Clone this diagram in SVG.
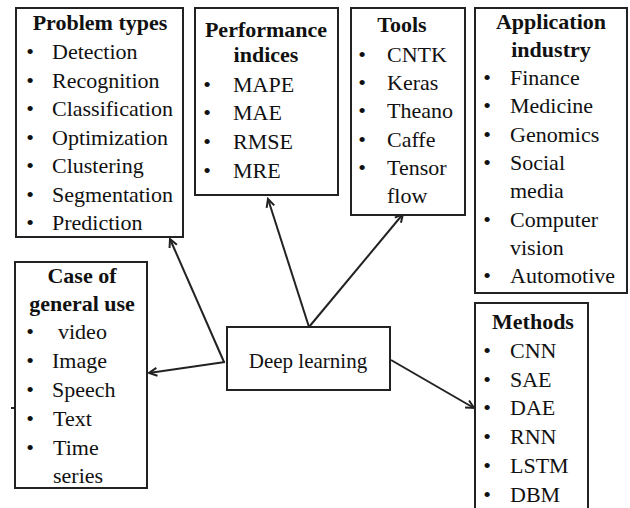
<svg xmlns="http://www.w3.org/2000/svg" width="630" height="508" viewBox="0 0 630 508">
<style>
.box{fill:#fff;stroke:#222;stroke-width:2}
text{font-family:'Liberation Serif','Tinos','Noto Serif','Nimbus Roman','FreeSerif','DejaVu Serif','Times New Roman',Times,serif;font-size:22px;fill:#111}
.h{font-weight:bold;text-anchor:middle}
.b{text-anchor:middle}
.c{fill:none;stroke:#222;stroke-width:2}
</style>
<defs>
<marker id="ah" markerUnits="userSpaceOnUse" markerWidth="12" markerHeight="12" refX="9" refY="5" orient="auto">
<path d="M1,1 L9,5 L1,9" fill="none" stroke="#222" stroke-width="2"/>
</marker>
</defs>
<rect width="630" height="508" fill="#fff"/>
<g id="connectors">
<path class="c" d="M224,362 L170,239" marker-end="url(#ah)"/>
<path class="c" d="M309,327 L268,199" marker-end="url(#ah)"/>
<path class="c" d="M309,327 L403,214" marker-end="url(#ah)"/>
<path class="c" d="M225,362 L149,373" marker-end="url(#ah)"/>
<path class="c" d="M391,360 L474,408" marker-end="url(#ah)"/>
<path class="c" d="M11,408 L15,408"/>
</g>
<g id="problem-types">
<rect class="box" x="16" y="8" width="167" height="229"/>
<text class="h" x="100" y="30">Problem types</text>
<g class="b"><text x="30" y="59">•</text><text x="30" y="87.5">•</text><text x="30" y="116">•</text><text x="30" y="144.5">•</text><text x="30" y="173">•</text><text x="30" y="201.5">•</text><text x="30" y="230">•</text></g>
<g><text x="52" y="59">Detection</text><text x="52" y="87.5">Recognition</text><text x="52" y="116">Classification</text><text x="52" y="144.5">Optimization</text><text x="52" y="173">Clustering</text><text x="52" y="201.5">Segmentation</text><text x="52" y="230">Prediction</text></g>
</g>
<g id="performance-indices">
<rect class="box" x="195" y="8" width="143" height="187"/>
<text class="h" x="266" y="37">Performance</text>
<text class="h" x="266" y="62">indices</text>
<g class="b"><text x="207" y="92">•</text><text x="207" y="120">•</text><text x="207" y="149">•</text><text x="207" y="178">•</text></g>
<g><text x="233" y="92">MAPE</text><text x="233" y="120">MAE</text><text x="233" y="149">RMSE</text><text x="233" y="178">MRE</text></g>
</g>
<g id="tools">
<rect class="box" x="351" y="8" width="114" height="207"/>
<text class="h" x="402" y="32">Tools</text>
<g class="b"><text x="362" y="62">•</text><text x="362" y="90">•</text><text x="362" y="118">•</text><text x="362" y="147">•</text><text x="362" y="175">•</text></g>
<g><text x="387" y="62">CNTK</text><text x="387" y="90">Keras</text><text x="387" y="118">Theano</text><text x="387" y="147">Caffe</text><text x="387" y="175">Tensor</text><text x="387" y="203">flow</text></g>
</g>
<g id="application-industry">
<rect class="box" x="475" y="8" width="152" height="285"/>
<text class="h" x="551" y="29">Application</text>
<text class="h" x="551" y="57">industry</text>
<g class="b"><text x="487" y="85">•</text><text x="487" y="113">•</text><text x="487" y="142">•</text><text x="487" y="170">•</text><text x="487" y="227">•</text><text x="487" y="283">•</text></g>
<g><text x="510" y="85">Finance</text><text x="510" y="113">Medicine</text><text x="510" y="142">Genomics</text><text x="510" y="170">Social</text><text x="510" y="198">media</text><text x="510" y="227">Computer</text><text x="510" y="255">vision</text><text x="510" y="283">Automotive</text></g>
</g>
<g id="case-of-general-use">
<rect class="box" x="15" y="262" width="132" height="226"/>
<text class="h" x="82" y="283">Case of</text>
<text class="h" x="82" y="311">general use</text>
<g class="b"><text x="30" y="339">•</text><text x="30" y="368">•</text><text x="30" y="397">•</text><text x="30" y="426">•</text><text x="30" y="455">•</text></g>
<g><text x="58" y="339">video</text><text x="52" y="368">Image</text><text x="52" y="397">Speech</text><text x="53" y="426">Text</text><text x="53" y="455">Time</text><text x="53" y="483">series</text></g>
</g>
<g id="deep-learning">
<rect class="box" x="227" y="327" width="163" height="63"/>
<text class="b" x="308" y="368" style="font-size:21px">Deep learning</text>
</g>
<g id="methods">
<rect class="box" x="475" y="303" width="113" height="220"/>
<text class="h" x="533" y="329">Methods</text>
<g class="b"><text x="487" y="358">•</text><text x="487" y="387">•</text><text x="487" y="415">•</text><text x="487" y="444">•</text><text x="487" y="473">•</text><text x="487" y="502">•</text></g>
<g><text x="510" y="358">CNN</text><text x="510" y="387">SAE</text><text x="510" y="415">DAE</text><text x="510" y="444">RNN</text><text x="510" y="473">LSTM</text><text x="510" y="502">DBM</text></g>
</g>
</svg>
